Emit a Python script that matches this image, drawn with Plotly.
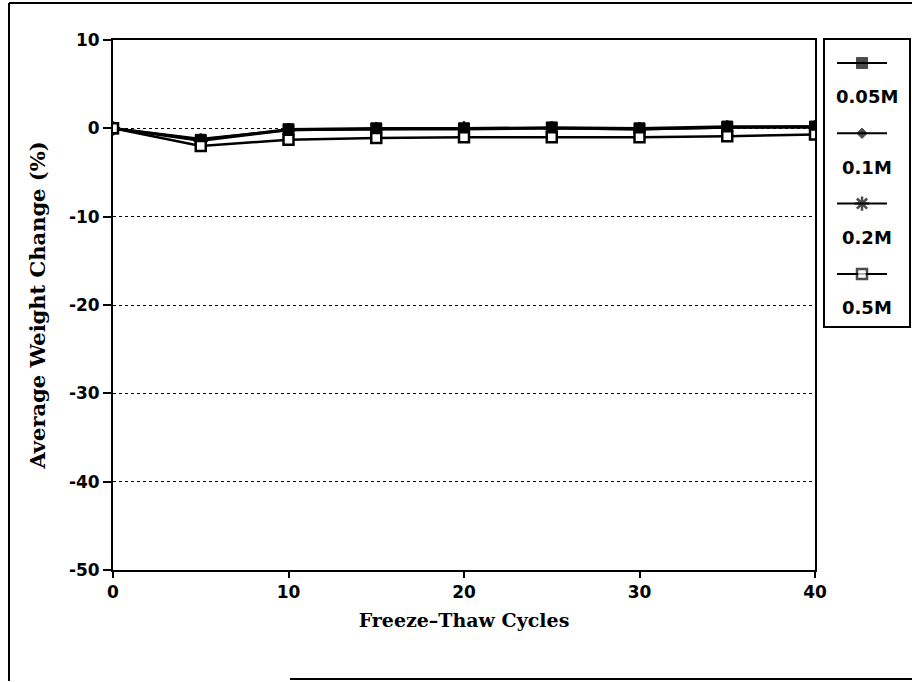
import plotly.graph_objects as go

# Freeze-thaw test: average weight change of specimens per solution strength
cycles = [0, 5, 10, 15, 20, 25, 30, 35, 40]
series_names = ["0.05M", "0.1M", "0.2M", "0.5M"]
w_005 = [0.0, -1.3, -0.1, 0.0, 0.0, 0.1, 0.0, 0.2, 0.2]
w_01 = [0.0, -1.2, -0.2, -0.1, -0.1, 0.0, -0.1, 0.1, 0.2]
w_02 = [0.0, -1.4, -0.2, -0.1, 0.0, 0.0, -0.1, 0.1, 0.1]
w_05 = [0.0, -2.0, -1.3, -1.1, -1.0, -1.0, -1.0, -0.9, -0.7]
y_ticks = [10, 0, -10, -20, -30, -40, -50]
x_ticks = [0, 10, 20, 30, 40]

values = [w_005, w_01, w_02, w_05]
styles = [
    dict(symbol="square", size=11, color="black", line=dict(color="black", width=1)),
    dict(symbol="diamond", size=8, color="black", line=dict(color="black", width=1)),
    dict(symbol="asterisk", size=12, color="black", line=dict(color="black", width=2.5)),
    dict(symbol="square", size=10, color="white", line=dict(color="black", width=2.5)),
]

W, H = 912, 682
ML, MR, MT, MB = 113, 2, 40, 112
PW = W - ML - MR
PH = H - MT - MB
plot_right = 815


def px_x(p):
    return (p - ML) / PW


def px_y(p):
    return (H - MB - p) / PH


fig = go.Figure()

for name, vals, st in zip(series_names, values, styles):
    fig.add_trace(go.Scatter(
        x=cycles, y=vals, name=name, mode="lines+markers",
        line=dict(color="black", width=2.5), marker=st,
        showlegend=False, xaxis="x", yaxis="y",
    ))

# Key: a short line with the series marker, label underneath
for i, (name, st) in enumerate(zip(series_names, styles)):
    key_marker = dict(st)
    key_marker["size"] = [0, st["size"], 0]
    fig.add_trace(go.Scatter(
        x=[0, 0.5, 1], y=[i, i, i], mode="lines+markers",
        line=dict(color="black", width=2), marker=key_marker,
        showlegend=False, hoverinfo="skip", xaxis="x2", yaxis="y2",
    ))
    fig.add_annotation(
        x=0.6, y=i + 0.48, xref="x2", yref="y2", text=name, showarrow=False,
        font=dict(family="DejaVu Sans", size=18, color="black", weight="bold"),
        xanchor="center", yanchor="middle",
    )

slot = 70.3
a = -(63 - MT) / slot
tick_font = dict(family="DejaVu Sans", size=17, color="black", weight="bold")
title_font_x = dict(family="DejaVu Serif", size=19, color="black", weight="bold")
title_font_y = dict(family="DejaVu Serif", size=21, color="black", weight="bold")

fig.update_layout(
    width=W, height=H,
    margin=dict(l=ML, r=MR, t=MT, b=MB, autoexpand=False),
    paper_bgcolor="white", plot_bgcolor="white",
    xaxis=dict(
        domain=[0, px_x(plot_right)], range=[0, 40], tickvals=x_ticks,
        ticktext=[str(v) for v in x_ticks], ticks="outside", ticklen=6,
        tickwidth=2, tickcolor="black", showline=True, linecolor="black",
        linewidth=2, mirror=True, showgrid=False, zeroline=False,
        tickfont=tick_font,
        title=dict(text="Freeze\u2013Thaw Cycles", font=title_font_x, standoff=12),
    ),
    yaxis=dict(
        domain=[0, 1], range=[-50, 10], tickvals=y_ticks,
        ticktext=[str(v) for v in y_ticks], ticks="outside", ticklen=8,
        tickwidth=2, tickcolor="black", showline=True, linecolor="black",
        linewidth=2, mirror=True, showgrid=True, gridcolor="black",
        gridwidth=1, griddash="dot", zeroline=False, tickfont=tick_font,
        title=dict(text="Average Weight Change (%)", font=title_font_y, standoff=18),
    ),
    xaxis2=dict(domain=[px_x(837), px_x(887)], range=[0, 1], visible=False,
                anchor="y2"),
    yaxis2=dict(domain=[0, 1], range=[a + PH / slot, a], visible=False,
                anchor="x2"),
)

# key box
fig.add_shape(type="rect", xref="paper", yref="paper",
              x0=px_x(824), x1=px_x(910), y0=px_y(327), y1=px_y(39),
              line=dict(color="black", width=2), fillcolor="rgba(0,0,0,0)")
# page frame
frame = dict(color="black", width=2)
fig.add_shape(type="line", xref="paper", yref="paper",
              x0=px_x(9), x1=px_x(913), y0=px_y(3), y1=px_y(3), line=frame)
fig.add_shape(type="line", xref="paper", yref="paper",
              x0=px_x(9), x1=px_x(9), y0=px_y(3), y1=px_y(681), line=frame)
fig.add_shape(type="line", xref="paper", yref="paper",
              x0=px_x(290), x1=px_x(913), y0=px_y(679), y1=px_y(679), line=frame)

fig.write_html("out.html")
